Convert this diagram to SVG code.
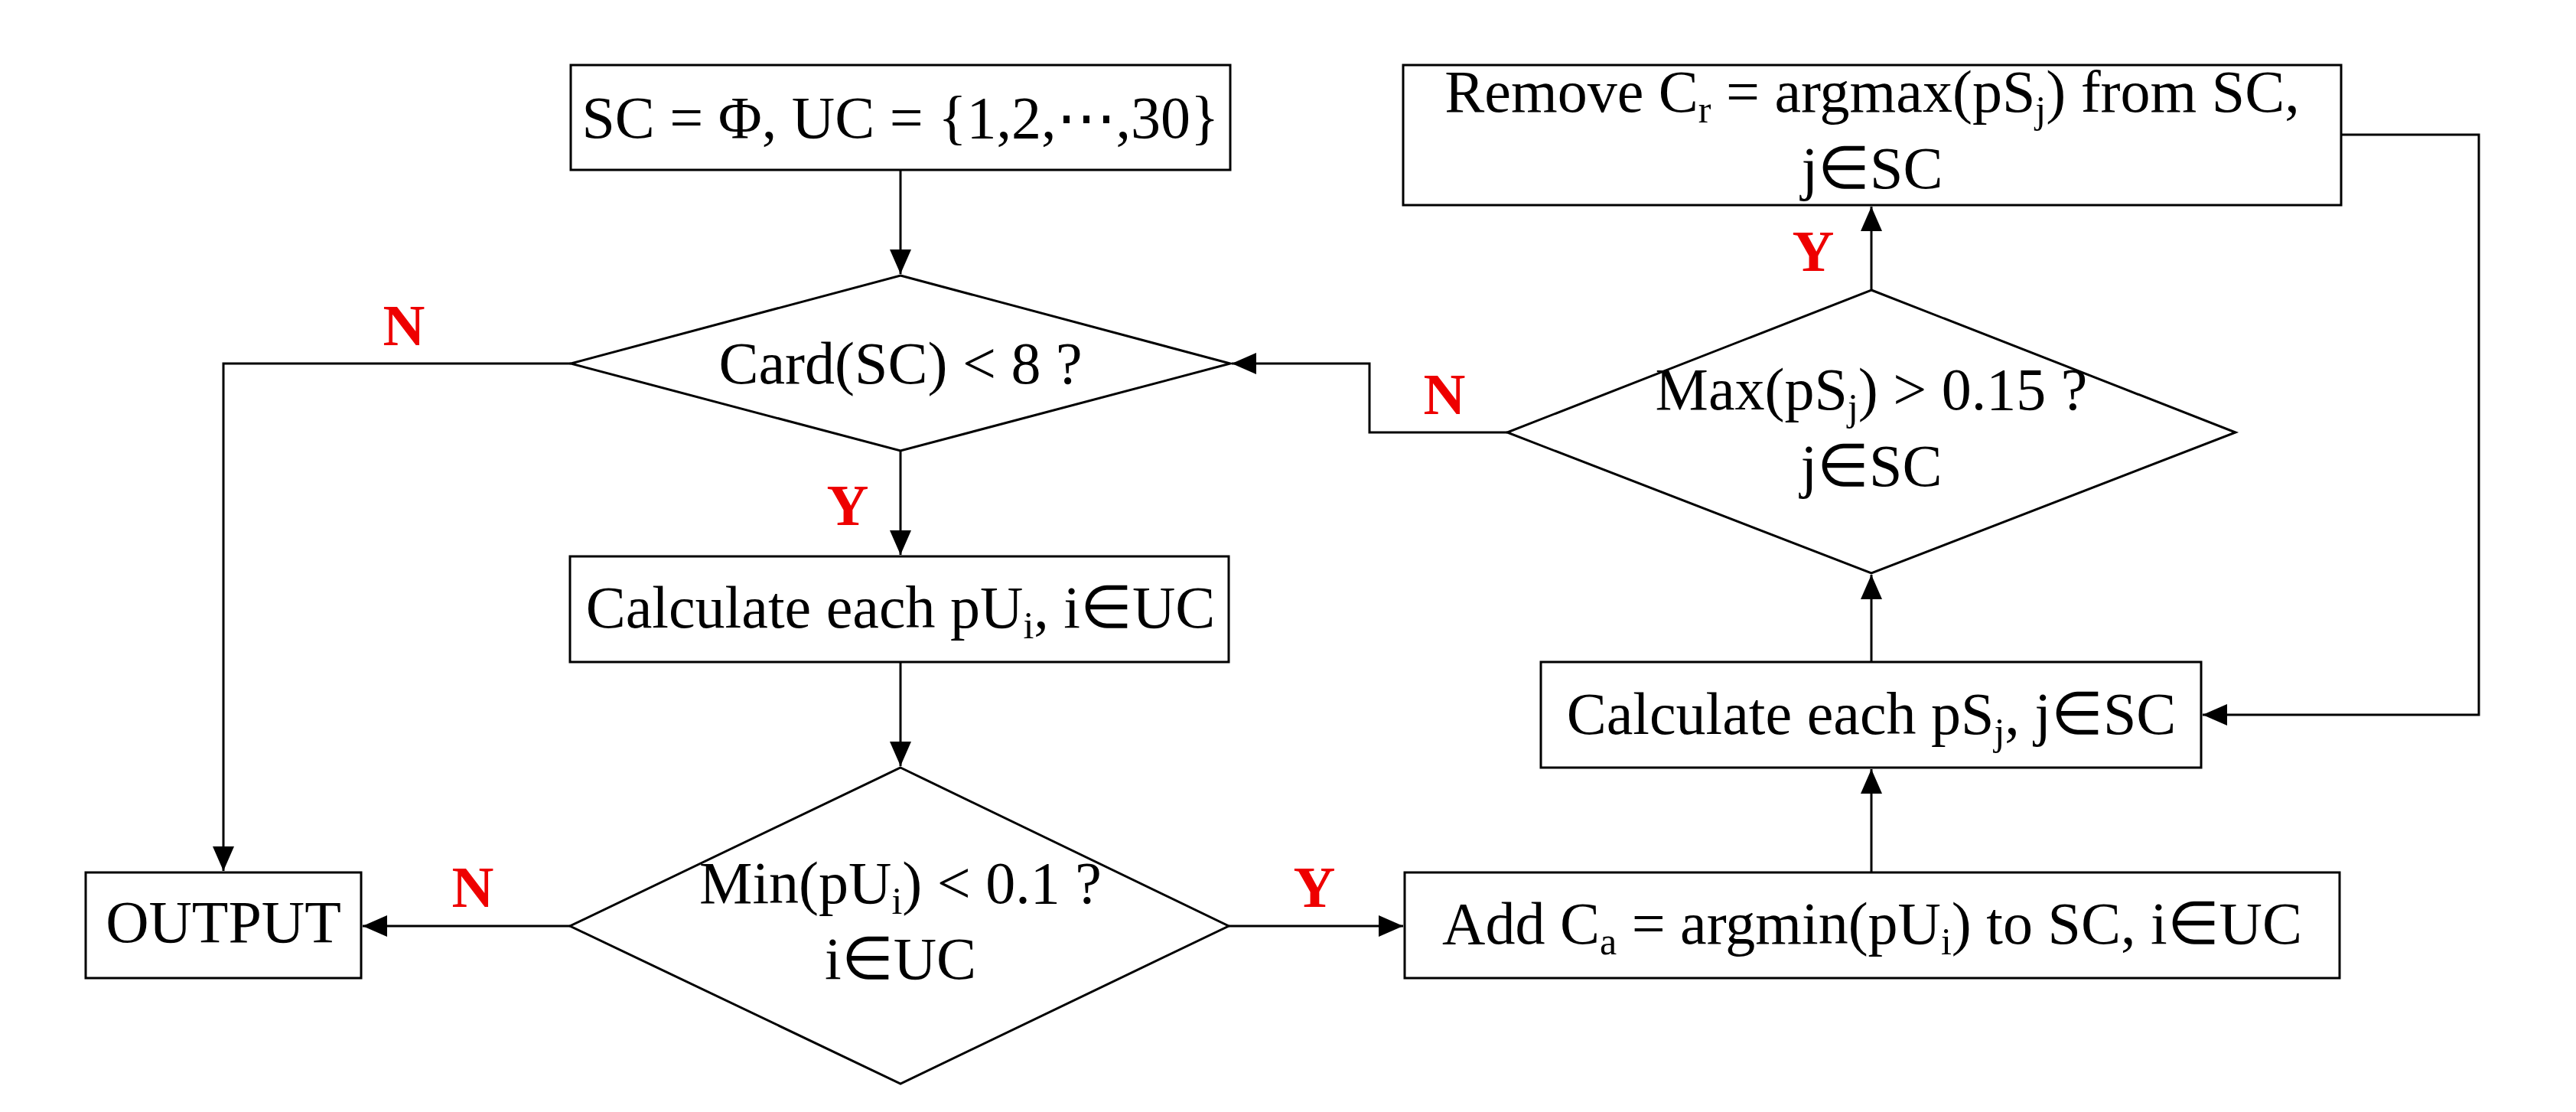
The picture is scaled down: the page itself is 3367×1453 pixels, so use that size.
<svg xmlns="http://www.w3.org/2000/svg" width="3367" height="1453" viewBox="0 0 3367 1453">
<style>
.s{fill:#fff;stroke:#000;stroke-width:3}
.t{font-family:"Liberation Serif","Times New Roman",serif;font-size:78px;text-anchor:middle;fill:#000}
.sub{font-size:50px}
.l{font-family:"Liberation Serif","Times New Roman",serif;font-size:76px;font-weight:bold;fill:#e00;text-anchor:middle}
.c{fill:none;stroke:#000;stroke-width:3}
</style>
<defs>
<marker id="a" markerUnits="userSpaceOnUse" markerWidth="34" markerHeight="30" refX="32" refY="14" orient="auto"><path d="M0,0 L32,14 L0,28 Z" fill="#000"/></marker>
</defs>
<rect width="3367" height="1453" fill="#fff"/>
<g id="connectors">
<path class="c" d="M1177,222 V358" marker-end="url(#a)"/>
<path class="c" d="M1177,589 V725" marker-end="url(#a)"/>
<path class="c" d="M1177,865 V1001" marker-end="url(#a)"/>
<path class="c" d="M746,475 H292 V1138" marker-end="url(#a)"/>
<path class="c" d="M745,1210 H474" marker-end="url(#a)"/>
<path class="c" d="M1606,1210 H1834" marker-end="url(#a)"/>
<path class="c" d="M2446,1140 V1005" marker-end="url(#a)"/>
<path class="c" d="M2446,865 V751" marker-end="url(#a)"/>
<path class="c" d="M2446,379 V270" marker-end="url(#a)"/>
<path class="c" d="M3060,176 H3240 V934 H2879" marker-end="url(#a)"/>
<path class="c" d="M1970,565 H1790 V475 H1610" marker-end="url(#a)"/>
</g>
<g id="start"><rect class="s" x="746" y="85" width="862" height="137"/>
<text class="t" x="1177" y="180">SC = Φ, UC = {1,2,⋯,30}</text></g>
<g id="card"><polygon class="s" points="1177,360 1608,475 1177,589 746,475"/>
<text class="t" x="1177" y="501">Card(SC) &lt; 8 ?</text></g>
<g id="calcpu"><rect class="s" x="745" y="727" width="861" height="138"/>
<text class="t" x="1177" y="820">Calculate each pU<tspan class="sub" dy="14">i</tspan><tspan dy="-14">, i∈UC</tspan></text></g>
<g id="min"><polygon class="s" points="1177,1003 1606,1210 1177,1416 745,1210"/>
<text class="t" x="1177" y="1180">Min(pU<tspan class="sub" dy="14">i</tspan><tspan dy="-14">) &lt; 0.1 ?</tspan></text>
<text class="t" x="1177" y="1279">i∈UC</text></g>
<g id="output"><rect class="s" x="112" y="1140" width="360" height="138"/>
<text class="t" x="292" y="1231">OUTPUT</text></g>
<g id="add"><rect class="s" x="1836" y="1140" width="1222" height="138"/>
<text class="t" x="2447" y="1233">Add C<tspan class="sub" dy="14">a</tspan><tspan dy="-14"> = argmin(pU</tspan><tspan class="sub" dy="14">i</tspan><tspan dy="-14">) to SC, i∈UC</tspan></text></g>
<g id="calcps"><rect class="s" x="2014" y="865" width="863" height="138"/>
<text class="t" x="2446" y="959">Calculate each pS<tspan class="sub" dy="14">j</tspan><tspan dy="-14">, j∈SC</tspan></text></g>
<g id="max"><polygon class="s" points="2446,379 2922,565 2446,749 1970,565"/>
<text class="t" x="2446" y="535">Max(pS<tspan class="sub" dy="14">j</tspan><tspan dy="-14">) &gt; 0.15 ?</tspan></text>
<text class="t" x="2446" y="635">j∈SC</text></g>
<g id="remove"><rect class="s" x="1834" y="85" width="1226" height="183"/>
<text class="t" x="2447" y="146">Remove C<tspan class="sub" dy="14">r</tspan><tspan dy="-14"> = argmax(pS</tspan><tspan class="sub" dy="14">j</tspan><tspan dy="-14">) from SC,</tspan></text>
<text class="t" x="2447" y="246">j∈SC</text></g>
<g id="labels">
<text class="l" x="528" y="451">N</text>
<text class="l" x="1108" y="686">Y</text>
<text class="l" x="618" y="1185">N</text>
<text class="l" x="1718" y="1185">Y</text>
<text class="l" x="1888" y="541">N</text>
<text class="l" x="2370" y="354">Y</text>
</g>
</svg>
